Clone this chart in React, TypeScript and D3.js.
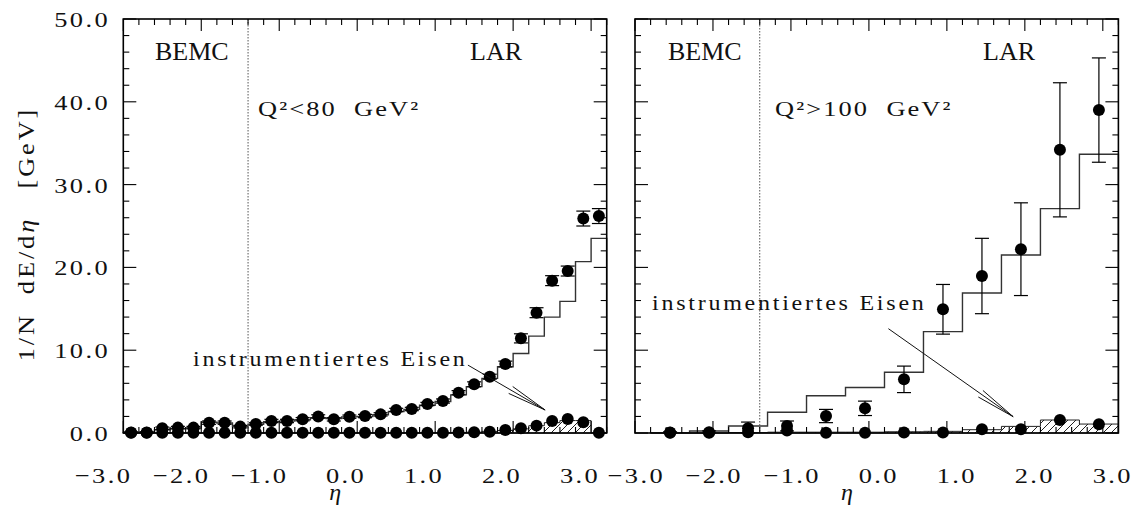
import React from 'react';
import * as d3 from 'd3';

const FONT = '"Liberation Serif", "Times New Roman", serif';

// Q² < 80 GeV²: η bin centres (bin width 0.2) and energy flow per bin
const lowEta = [-2.9, -2.7, -2.5, -2.3, -2.1, -1.9, -1.7, -1.5, -1.3, -1.1, -0.9, -0.7, -0.5, -0.3, -0.1,
  0.1, 0.3, 0.5, 0.7, 0.9, 1.1, 1.3, 1.5, 1.7, 1.9, 2.1, 2.3, 2.5, 2.7, 2.9, 3.1];
const lowData = [0.05, 0.05, 0.57, 0.65, 0.65, 1.25, 1.25, 0.77, 1.09, 1.45, 1.45, 1.67, 2.0, 1.65, 1.97,
  2.05, 2.25, 2.78, 2.9, 3.5, 3.86, 4.87, 5.88, 6.8, 8.33, 11.43, 14.53, 18.4, 19.56, 25.9, 26.2];
const lowErr = [0.1, 0.1, 0.15, 0.15, 0.15, 0.2, 0.2, 0.15, 0.15, 0.2, 0.2, 0.2, 0.2, 0.2, 0.2,
  0.2, 0.2, 0.2, 0.2, 0.2, 0.25, 0.25, 0.3, 0.3, 0.35, 0.55, 0.6, 0.6, 0.6, 0.9, 0.9];
const lowMc = [0.05, 0.1, 0.4, 0.55, 0.6, 1.3, 1.2, 0.8, 1.05, 1.35, 1.45, 1.6, 1.85, 1.75, 1.95,
  2.0, 2.2, 2.6, 2.85, 3.35, 3.8, 4.6, 5.6, 6.6, 8.0, 9.6, 11.7, 14.0, 15.9, 20.7, 23.5];
const lowIron = [0.02, 0.02, 0.02, 0.02, 0.02, 0.02, 0.02, 0.02, 0.02, 0.02, 0.02, 0.02, 0.02, 0.02, 0.02,
  0.02, 0.02, 0.02, 0.02, 0.02, 0.02, 0.05, 0.1, 0.15, 0.36, 0.57, 0.89, 1.45, 1.69, 1.29, 0.02];
const lowIronMc = [0, 0, 0, 0, 0, 0, 0, 0, 0, 0, 0, 0, 0, 0, 0,
  0, 0, 0, 0, 0, 0.03, 0.05, 0.1, 0.2, 0.3, 0.5, 0.88, 1.25, 1.5, 1.5, 0];

// Q² > 100 GeV²: η bin centres (bin width 0.5)
const highEta = [-2.55, -2.05, -1.55, -1.05, -0.55, -0.05, 0.45, 0.95, 1.45, 1.95, 2.45, 2.95];
const highData = [0.05, 0.1, 0.57, 0.85, 2.05, 2.98, 6.48, 14.94, 18.96, 22.2, 34.2, 39.0];
const highErr = [0.1, 0.15, 0.75, 0.6, 0.8, 0.87, 1.6, 3.0, 4.55, 5.6, 8.1, 6.3];
const highMc = [0.05, 0.24, 0.85, 2.5, 4.5, 5.5, 7.33, 12.24, 16.9, 21.5, 27.1, 33.66];
const highIron = [0.02, 0.02, 0.1, 0.3, 0.02, 0.02, 0.05, 0.05, 0.45, 0.45, 1.57, 1.05];
const highIronMc = [0, 0, 0.05, 0.1, 0.1, 0.1, 0.15, 0.2, 0.4, 0.8, 1.57, 1.08];

// axes
const etaDomain = [-3.0, 3.2];
const eDomain = [0, 50];
const xTickValues = [-3, -2, -1, 0, 1, 2, 3];
const xTickLabels = ['−3.0', '−2.0', '−1.0', '0.0', '1.0', '2.0', '3.0'];
const yTickValues = [0, 10, 20, 30, 40, 50];
const yTickLabels = ['0.0', '10.0', '20.0', '30.0', '40.0', '50.0'];
const detectorBoundary = -1.4;

const W = 1138;
const H = 520;
const TOP = 19;
const BOTTOM = 433;

type TProps = {
  x: number; y: number; size: number; sx?: number; ls?: number;
  anchor?: 'start' | 'middle' | 'end'; rotate?: number; children: React.ReactNode;
};

function T({ x, y, size, sx = 1, ls = 0, anchor = 'start', rotate = 0, children }: TProps) {
  return (
    <text
      transform={`translate(${x},${y}) rotate(${rotate}) scale(${sx},1)`}
      fontFamily={FONT}
      fontSize={size}
      letterSpacing={ls}
      textAnchor={anchor}
      fill="#111"
      style={{ whiteSpace: 'pre' }}
    >
      {children}
    </text>
  );
}

type PanelProps = {
  left: number; right: number;
  eta: number[]; data: number[]; err: number[]; mc: number[];
  iron: number[]; ironMc: number[]; binWidth: number;
  labelDx: number; yLabels: boolean;
  q2Text: string; bemcX: number; larX: number; q2X: number;
  ironTextX: number; ironTextY: number;
  arrowFrom: [number, number]; arrowTo: [number, number];
};

function stepPath(x: d3.ScaleLinear<number, number>, y: d3.ScaleLinear<number, number>,
  eta: number[], vals: number[], w: number, closed: boolean) {
  const pts: [number, number][] = [];
  pts.push([x(eta[0] - w / 2), y(0)]);
  eta.forEach((c, i) => {
    pts.push([x(c - w / 2), y(vals[i])]);
    pts.push([x(c + w / 2), y(vals[i])]);
  });
  pts.push([x(eta[eta.length - 1] + w / 2), y(0)]);
  const p = d3.line()(pts) || '';
  return closed ? p + 'Z' : p;
}

function Panel(p: PanelProps) {
  const x = d3.scaleLinear().domain(etaDomain).range([p.left, p.right]);
  const y = d3.scaleLinear().domain(eDomain).range([BOTTOM, TOP]);
  const minorX = d3.range(-3.0, 3.2001, 0.2).map(v => Math.round(v * 10) / 10);
  const minorY = d3.range(0, 50.001, 2);
  const capHalf = 7;
  const r = 6;

  const [ax, ay] = [x(p.arrowFrom[0]), y(p.arrowFrom[1])];
  const [bx, by] = [x(p.arrowTo[0]), y(p.arrowTo[1])];
  const ang = Math.atan2(by - ay, bx - ax);
  const headLen = 40;
  const barb = (da: number) => [bx - headLen * Math.cos(ang + da), by - headLen * Math.sin(ang + da)];
  const b1 = barb(0.1);
  const b2 = barb(-0.1);

  return (
    <g>
      {/* hatched iron calorimeter simulation */}
      <path d={stepPath(x, y, p.eta, p.ironMc, p.binWidth, true)} fill="url(#hatch)" stroke="#222" strokeWidth={1} />
      {/* simulation histogram */}
      <path d={stepPath(x, y, p.eta, p.mc, p.binWidth, false)} fill="none" stroke="#333" strokeWidth={1.4} />

      {/* detector boundary */}
      <line x1={x(detectorBoundary)} x2={x(detectorBoundary)} y1={TOP} y2={BOTTOM}
        stroke="#555" strokeWidth={1} strokeDasharray="1.5,1.5" />

      {/* iron points */}
      {p.eta.map((c, i) => (
        <circle key={'fe' + i} cx={x(c)} cy={y(p.iron[i])} r={r} fill="#000" />
      ))}
      {/* measured points with error bars */}
      {p.eta.map((c, i) => {
        const cx = x(c);
        const y1 = y(p.data[i] + p.err[i]);
        const y2 = y(Math.max(0, p.data[i] - p.err[i]));
        return (
          <g key={'d' + i}>
            <line x1={cx} x2={cx} y1={y1} y2={y2} stroke="#000" strokeWidth={1.2} />
            <line x1={cx - capHalf} x2={cx + capHalf} y1={y1} y2={y1} stroke="#000" strokeWidth={1.2} />
            <line x1={cx - capHalf} x2={cx + capHalf} y1={y2} y2={y2} stroke="#000" strokeWidth={1.2} />
            <circle cx={cx} cy={y(p.data[i])} r={r} fill="#000" />
          </g>
        );
      })}

      {/* annotation arrow */}
      <line x1={ax} y1={ay} x2={bx} y2={by} stroke="#111" strokeWidth={1} />
      <polyline points={`${b1[0]},${b1[1]} ${bx},${by} ${b2[0]},${b2[1]}`} fill="none" stroke="#111" strokeWidth={1} />

      {/* frame */}
      <rect x={p.left} y={TOP} width={p.right - p.left} height={BOTTOM - TOP} fill="none" stroke="#000" strokeWidth={1.6} />
      {minorX.map(v => {
        const major = Number.isInteger(v);
        const len = major ? 12 : 6;
        return (
          <g key={'tx' + v}>
            <line x1={x(v)} x2={x(v)} y1={BOTTOM} y2={BOTTOM - len} stroke="#000" strokeWidth={1.1} />
            <line x1={x(v)} x2={x(v)} y1={TOP} y2={TOP + len} stroke="#000" strokeWidth={1.1} />
          </g>
        );
      })}
      {minorY.map(v => {
        const major = v % 10 === 0;
        const len = major ? 13 : 6;
        return (
          <g key={'ty' + v}>
            <line x1={p.left} x2={p.left + len} y1={y(v)} y2={y(v)} stroke="#000" strokeWidth={1.1} />
            <line x1={p.right} x2={p.right - len} y1={y(v)} y2={y(v)} stroke="#000" strokeWidth={1.1} />
          </g>
        );
      })}

      {/* tick labels */}
      {xTickValues.map((v, i) => (
        <T key={'xl' + v} x={x(v) + p.labelDx} y={483} size={22} sx={1.2} ls={2} anchor="end">{xTickLabels[i]}</T>
      ))}
      {p.yLabels && yTickValues.map((v, i) => (
        <T key={'yl' + v} x={110} y={y(v) + 8} size={22} sx={1.2} ls={2} anchor="end">{yTickLabels[i]}</T>
      ))}
      <T x={x(0) - 22} y={500} size={24} anchor="middle"><tspan fontStyle="italic">η</tspan></T>

      {/* region labels */}
      <T x={p.bemcX} y={60} size={26}>BEMC</T>
      <T x={p.larX} y={60} size={26}>LAR</T>
      <T x={p.q2X} y={116} size={22} sx={1.2} ls={1.75}>{p.q2Text}</T>
      <T x={p.ironTextX} y={p.ironTextY} size={20} sx={1.2} ls={2.3}>instrumentiertes Eisen</T>
    </g>
  );
}

export default function App() {
  return (
    <svg width={W} height={H} viewBox={`0 0 ${W} ${H}`}
      style={{ position: 'absolute', left: 0, top: 0, background: '#fff' }}>
      <defs>
        <pattern id="hatch" patternUnits="userSpaceOnUse" width={8} height={8}>
          <path d="M-2,2 L2,-2 M0,8 L8,0 M6,10 L10,6" stroke="#222" strokeWidth={1} />
        </pattern>
      </defs>
      <rect x={0} y={0} width={W} height={H} fill="#fff" />

      <Panel left={123.3} right={606.7}
        eta={lowEta} data={lowData} err={lowErr} mc={lowMc} iron={lowIron} ironMc={lowIronMc} binWidth={0.2}
        labelDx={9} yLabels={true}
        q2Text={'Q²<80  GeV²'} bemcX={155} larX={470} q2X={258}
        ironTextX={193} ironTextY={366}
        arrowFrom={[1.42, 8.2]} arrowTo={[2.41, 2.78]} />

      <Panel left={635} right={1118.4}
        eta={highEta} data={highData} err={highErr} mc={highMc} iron={highIron} ironMc={highIronMc} binWidth={0.5}
        labelDx={30} yLabels={false}
        q2Text={'Q²>100  GeV²'} bemcX={668} larX={983} q2X={775}
        ironTextX={652} ironTextY={310}
        arrowFrom={[0.25, 12.6]} arrowTo={[1.85, 1.97]} />

      {/* shared y-axis title */}
      <T x={34} y={234} size={24} sx={1.1} ls={2.6} anchor="middle" rotate={-90}>
        {'1/N  dE/d'}<tspan fontStyle="italic">η</tspan>{'   [GeV]'}
      </T>
    </svg>
  );
}
